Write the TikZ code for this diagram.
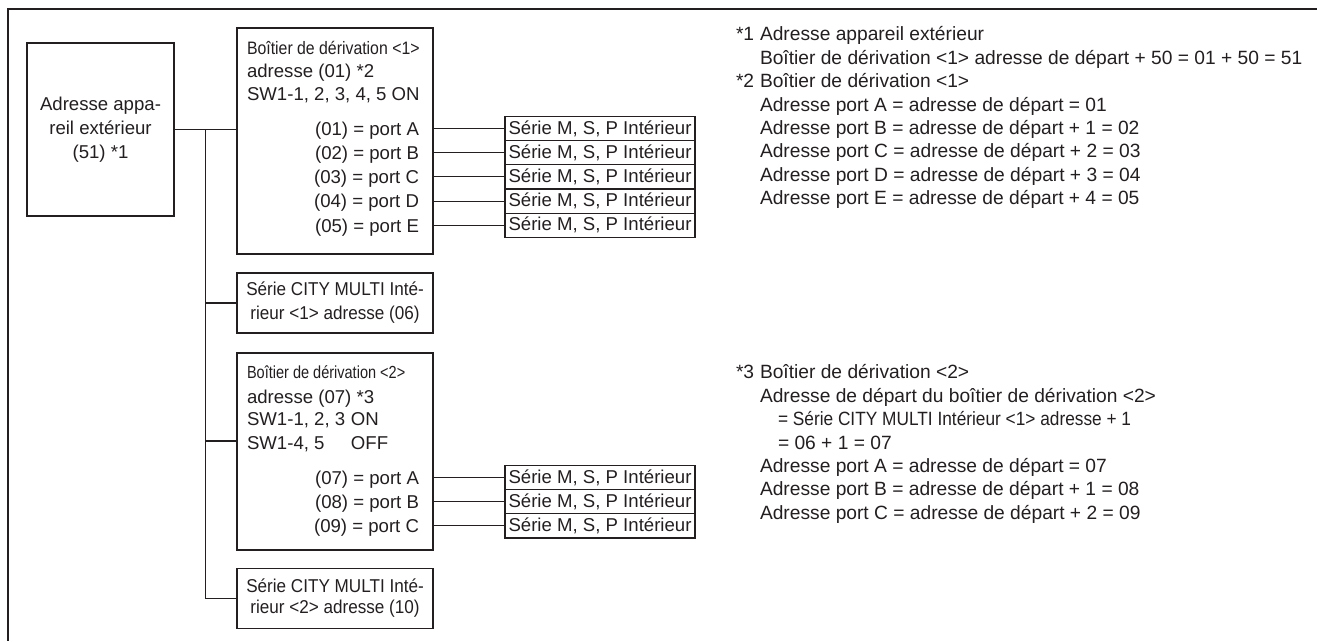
\documentclass[tikz,border=0pt]{standalone}
\usepackage{fontspec}
\setmainfont{Liberation Sans}
\newfontfamily\narrowfont{Liberation Sans}[FakeStretch=0.88]
\newfontfamily\narrowfontB{Liberation Sans}[FakeStretch=0.83]
\newfontfamily\cmfont{Liberation Sans}[FakeStretch=0.92]
\newfontfamily\notecond{Liberation Sans}[FakeStretch=0.9]
\definecolor{ink}{HTML}{231F20}
\begin{document}
\begin{tikzpicture}[x=1pt,y=-1pt,
  every node/.style={inner sep=0pt, outer sep=0pt, text=ink},
  wire/.style={draw=ink, line width=1.1pt},
  box/.style={draw=ink, line width=1.1pt, inner sep=0pt},
  txt/.style={font=\fontsize{18.6}{24}\selectfont, anchor=base west},
  note/.style={font=\fontsize{19.2}{24}\selectfont, anchor=base west},
  porttxt/.style={font=\fontsize{18.6}{24}\selectfont, anchor=base east},
  title1/.style={font=\narrowfont\fontsize{18}{24}\selectfont, anchor=base west},
  title2/.style={font=\narrowfontB\fontsize{17.5}{24}\selectfont, anchor=base west},
  serie/.style={box, minimum width=190pt, minimum height=24.2pt, font=\fontsize{18.6}{24}\selectfont},
  cmbox/.style={box, minimum width=196pt, minimum height=60pt, align=center, font=\cmfont\fontsize{18.6}{24}\selectfont}
]
\useasboundingbox (0,0) rectangle (1317,641);
% frame
\draw[wire] (1317,9) -- (8,9) -- (8,641);

% outdoor unit
\node[box, minimum width=147pt, minimum height=173pt, align=center,
      font=\fontsize{18.6}{24}\selectfont] (out) at (100.5,129.5)
      {Adresse appa-\\reil extérieur\\(51) *1};

% branch box 1
\node[box, minimum width=196pt, minimum height=226pt] (b1) at (335,141) {};
\node[title1] (b1t) at (247,54.5) {Boîtier de dérivation <1>};
\node[txt] (b1a) at (247,77.5) {adresse (01) *2};
\node[txt] (b1s) at (247,100.5) {SW1-1, 2, 3, 4, 5 ON};
\node[porttxt] (p1) at (419,135.2) {(01) = port A};
\node[porttxt] (p2) at (419,159.4) {(02) = port B};
\node[porttxt] (p3) at (419,183.6) {(03) = port C};
\node[porttxt] (p4) at (419,207.8) {(04) = port D};
\node[porttxt] (p5) at (419,232.0) {(05) = port E};
\node[serie] (s1) at (600,128.5) {Série M, S, P Intérieur};
\node[serie] (s2) at (600,152.7) {Série M, S, P Intérieur};
\node[serie] (s3) at (600,176.9) {Série M, S, P Intérieur};
\node[serie] (s4) at (600,201.1) {Série M, S, P Intérieur};
\node[serie] (s5) at (600,225.3) {Série M, S, P Intérieur};
\foreach \s in {s1,s2,s3,s4,s5}{\draw[wire] (\s.west -| b1.east) -- (\s.west);}

% CITY MULTI 1
\node[cmbox] (cm1) at (335,303) {Série CITY MULTI Inté-\\rieur <1> adresse (06)};

% branch box 2
\node[box, minimum width=196pt, minimum height=197pt] (b2) at (335,451.5) {};
\node[title2] (b2t) at (247,378) {Boîtier de dérivation <2>};
\node[txt] (b2a) at (247,403.5) {adresse (07) *3};
\node[txt] (b2s) at (247,425.5) {\makebox[104pt][l]{SW1-1, 2, 3}ON};
\node[txt] (b2o) at (247,449.5) {\makebox[104pt][l]{SW1-4, 5}OFF};
\node[porttxt] (q1) at (419,484.2) {(07) = port A};
\node[porttxt] (q2) at (419,508.4) {(08) = port B};
\node[porttxt] (q3) at (419,532.6) {(09) = port C};
\node[serie] (t1) at (600,477.5) {Série M, S, P Intérieur};
\node[serie] (t2) at (600,501.7) {Série M, S, P Intérieur};
\node[serie] (t3) at (600,525.9) {Série M, S, P Intérieur};
\foreach \s in {t1,t2,t3}{\draw[wire] (\s.west -| b2.east) -- (\s.west);}

% CITY MULTI 2
\node[cmbox, font=\cmfont\fontsize{18.6}{21}\selectfont] (cm2) at (335,598.5) {Série CITY MULTI Inté-\\rieur <2> adresse (10)};

% trunk
\coordinate (tr) at (205.5,0);
\coordinate (b2in) at (0,441);
\draw[wire] (out.east) -- (out.east -| b1.west);
\draw[wire] (tr |- out.east) -- (tr |- cm2.west) -- (cm2.west);
\draw[wire] (tr |- cm1.west) -- (cm1.west);
\draw[wire] (tr |- b2in) -- (b2.west |- b2in);

% notes
\node[note] (n1) at (736,40.8) {*1};
\node[note] (n1a) at (760,40.8) {Adresse appareil extérieur};
\node[note] (n1b) at (760,64.2) {Boîtier de dérivation <1> adresse de départ + 50 = 01 + 50 = 51};
\node[note] (n2) at (736,87.6) {*2};
\node[note] (n2a) at (760,87.6) {Boîtier de dérivation <1>};
\node[note] (n2b) at (760,111.0) {Adresse port A = adresse de départ = 01};
\node[note] (n2c) at (760,134.4) {Adresse port B = adresse de départ + 1 = 02};
\node[note] (n2d) at (760,157.8) {Adresse port C = adresse de départ + 2 = 03};
\node[note] (n2e) at (760,181.2) {Adresse port D = adresse de départ + 3 = 04};
\node[note] (n2f) at (760,204.6) {Adresse port E = adresse de départ + 4 = 05};

\node[note] (n3) at (736,378.8) {*3};
\node[note] (n3a) at (760,378.8) {Boîtier de dérivation <2>};
\node[note] (n3b) at (760,402.2) {Adresse de départ du boîtier de dérivation <2>};
\node[note, font=\notecond\fontsize{19.2}{24}\selectfont] (n3c) at (778,425.6) {= Série CITY MULTI Intérieur <1> adresse + 1};
\node[note] (n3d) at (778,449.0) {= 06 + 1 = 07};
\node[note] (n3e) at (760,472.4) {Adresse port A = adresse de départ = 07};
\node[note] (n3f) at (760,495.8) {Adresse port B = adresse de départ + 1 = 08};
\node[note] (n3g) at (760,519.2) {Adresse port C = adresse de départ + 2 = 09};
\end{tikzpicture}
\end{document}
